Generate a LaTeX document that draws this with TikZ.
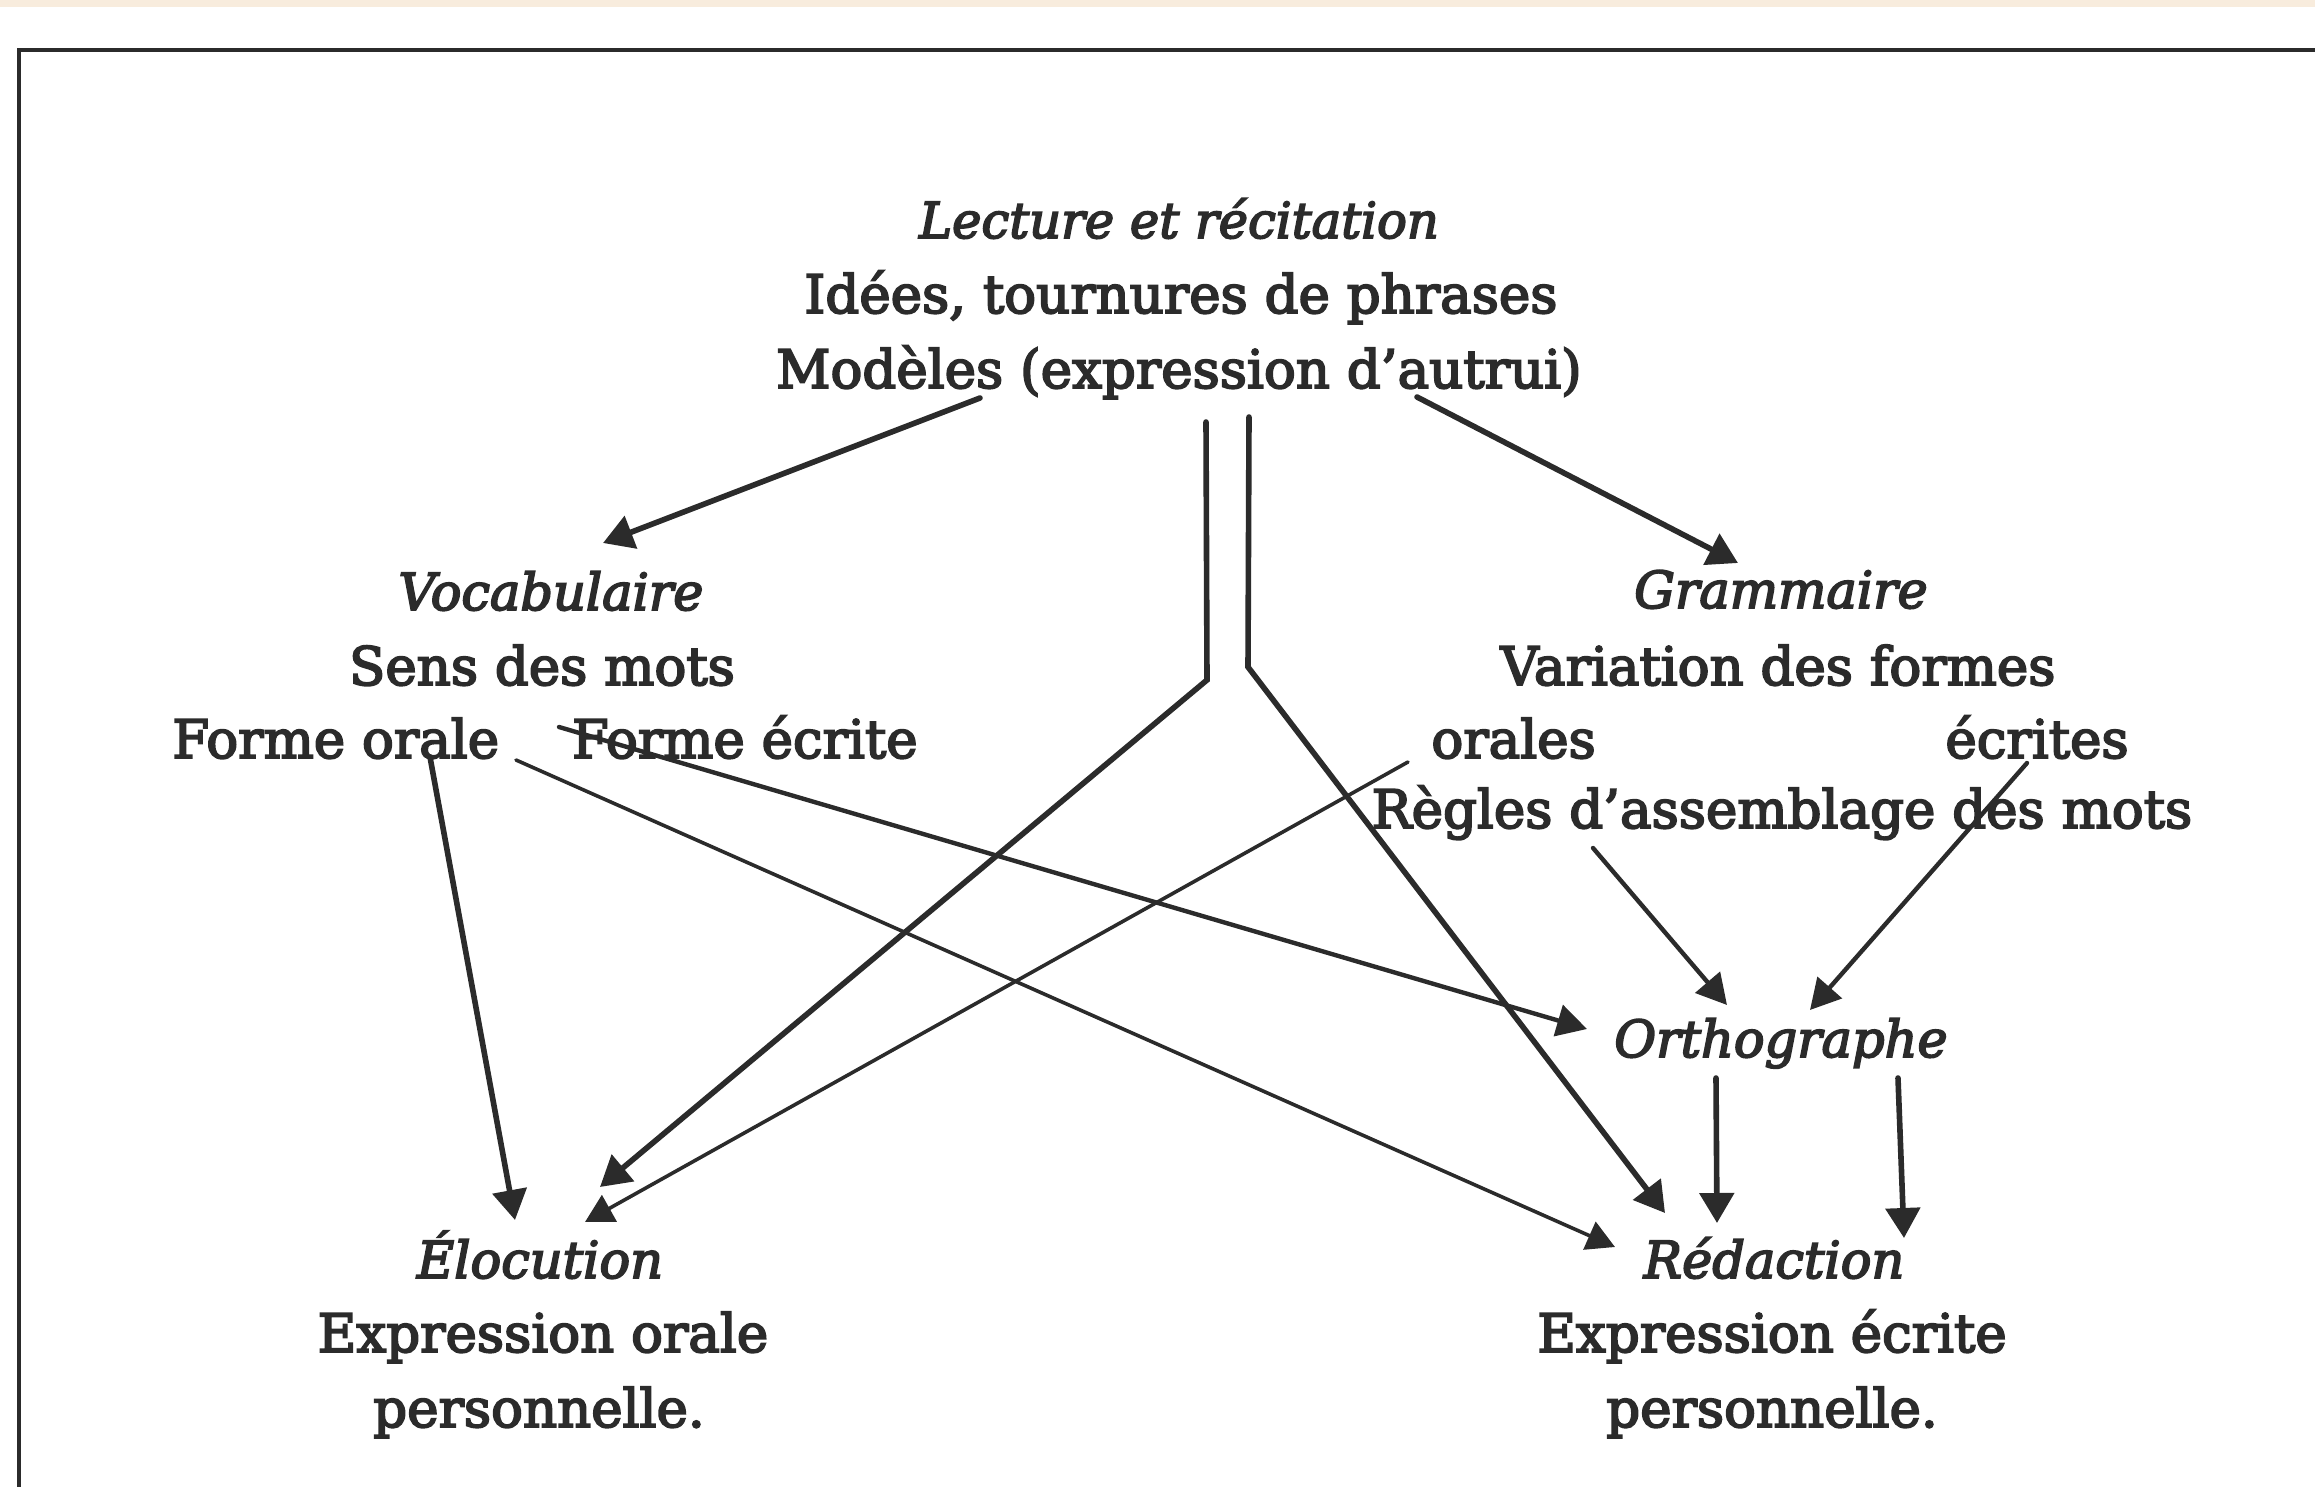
\documentclass[tikz,border=0pt]{standalone}
\usepackage{fontspec}
\setmainfont{DejaVu Serif}
\newfontfamily\heavyrm{DejaVu Serif}[
  BoldFont={DejaVu Serif}, BoldFeatures={FakeBold=3.5},
  BoldItalicFont={DejaVu Serif Italic}, BoldItalicFeatures={FakeBold=3.5}]
\usetikzlibrary{arrows.meta}
\definecolor{ink}{HTML}{2B2B2B}
\definecolor{paper}{HTML}{F8ECDD}
\tikzset{
  txt/.style={anchor=base, inner sep=0pt, text=ink, font=\heavyrm\bfseries\fontsize{26.5}{30}\selectfont},
  ttl/.style={txt, font=\heavyrm\bfseries\fontsize{25.5}{30}\selectfont\itshape},
  arr/.style={draw=ink, line width=2.8pt, line cap=round, -{Triangle[length=15pt,width=17pt]}},
  midarr/.style={arr, line width=2.2pt, -{Triangle[length=15pt,width=16pt]}},
  thinarr/.style={arr, line width=1.8pt, -{Triangle[length=14pt,width=15pt]}},
}
\begin{document}
\begin{tikzpicture}[x=0.5pt,y=-0.5pt]
\useasboundingbox (0,0) rectangle (2315,1487);
\fill[paper] (0,0) rectangle (2315,7);
\draw[ink,line width=2.2pt] (19,1487) -- (19,50) -- (2315,50);

\node[ttl, font=\heavyrm\bfseries\fontsize{24.8}{30}\selectfont\itshape] (lec) at (1179,238) {Lecture et récitation};
\node[txt] (idees) at (1181,313) {Idées, tournures de phrases};
\node[txt] (modeles) at (1179,388) {Modèles (expression d’autrui)};

\node[ttl] (voc) at (551,610) {Vocabulaire};
\node[txt] (sens) at (542,685) {Sens des mots};
\node[txt, anchor=base west] (fo) at (172,758) {Forme orale};
\node[txt, anchor=base east] (fe) at (918,758) {Forme écrite};

\node[ttl] (gram) at (1781,608) {Grammaire};
\node[txt] (var) at (1778,685) {Variation des formes};
\node[txt, anchor=base west] (orales) at (1431,758) {orales};
\node[txt, anchor=base east] (ecrites) at (2129,758) {écrites};
\node[txt] (regles) at (1782,828) {Règles d’assemblage des mots};

\node[ttl] (ortho) at (1781,1057) {Orthographe};

\node[ttl] (eloc) at (540,1278) {Élocution};
\node[txt] (expo) at (543,1352) {Expression orale};
\node[txt] (perso1) at (539,1427) {personnelle.};

\node[ttl] (red) at (1774,1278) {Rédaction};
\node[txt] (expe) at (1772,1352) {Expression écrite};
\node[txt] (perso2) at (1772,1427) {personnelle.};

% Lecture -> Vocabulaire / Grammaire
\draw[arr] ([shift={(-199,10)}]modeles.base) -- ([shift={(52,-67)}]voc.base);
\draw[arr] ([shift={(238,9)}]modeles.base) -- ([shift={(-43,-45)}]gram.base);
% double line
\draw[arr, line join=miter] ([shift={(27,34)}]modeles.base) -- ([shift={(28,292)}]modeles.base) -- ([shift={(60,-91)}]eloc.base);
\draw[arr, line join=miter] ([shift={(70,29)}]modeles.base) -- ([shift={(69,279)}]modeles.base) -- ([shift={(-109,-65)}]red.base);
% Vocabulaire
\draw[arr] ([shift={(258,-1)}]fo.base west) -- ([shift={(-25,-58)}]eloc.base);
\draw[thinarr] ([shift={(344,2)}]fo.base west) -- ([shift={(-159,-31)}]red.base);
\draw[midarr] ([shift={(-359,-31)}]fe.base east) -- ([shift={(-194,-28)}]ortho.base);
% Grammaire
\draw[thinarr] ([shift={(-23,4)}]orales.base west) -- ([shift={(45,-56)}]eloc.base);
\draw[midarr] ([shift={(-189,20)}]regles.base) -- ([shift={(-54,-52)}]ortho.base);
\draw[midarr] ([shift={(-102,5)}]ecrites.base east) -- ([shift={(29,-47)}]ortho.base);
% Orthographe -> Redaction
\draw[arr] ([shift={(-65,21)}]ortho.base) -- ([shift={(-57,-55)}]red.base);
\draw[arr] ([shift={(117,21)}]ortho.base) -- ([shift={(130,-40)}]red.base);
\end{tikzpicture}
\end{document}
